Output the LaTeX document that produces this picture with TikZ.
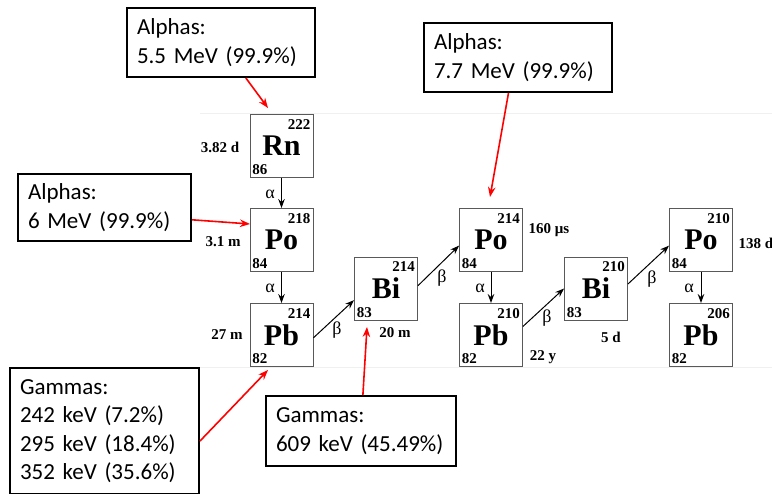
\documentclass[tikz,border=0pt]{standalone}
\usepackage{fontspec}
\setmainfont{Liberation Serif}
\newfontfamily\calfont{Carlito}
\usetikzlibrary{arrows.meta}

\begin{document}
\begin{tikzpicture}[x=1pt, y=-1pt,
    nuc/.style={draw=gray!70!black, line width=0.9pt, minimum size=63pt, inner sep=0pt,
        font=\fontsize{30}{30}\selectfont\bfseries},
    num/.style={inner sep=0pt, font=\fontsize{15}{15}\selectfont\bfseries},
    life/.style={inner sep=0pt, font=\fontsize{15}{15}\selectfont\bfseries},
    ray/.style={inner sep=0pt, font=\fontsize{18}{18}\selectfont},
    decay/.style={-{Stealth[length=9pt,width=6.5pt]}, line width=1pt},
    note/.style={draw, line width=2pt, anchor=north west, align=left, inner xsep=10pt, inner ysep=0pt,
        font=\calfont\fontsize{23}{28.5}\selectfont},
    pointer/.style={red, line width=1.6pt, -{Stealth[length=10pt,width=7.5pt]}}
]
    \clip (0,0) rectangle (772,494);

    % faint frame lines of the chart
    \draw[gray!12, line width=0.8pt] (200,113) -- (772,113);
    \draw[gray!12, line width=0.8pt] (200,367) -- (772,367);

    % nuclides
    \node[nuc] (rn)    at (281.5,146)   {Rn};
    \node[nuc] (po218) at (281.5,240)   {Po};
    \node[nuc] (pb214) at (281.5,335)   {Pb};
    \node[nuc] (bi214) at (386,288.5)   {Bi};
    \node[nuc] (po214) at (491,240)     {Po};
    \node[nuc] (pb210) at (491,335)     {Pb};
    \node[nuc] (bi210) at (596,288.5)   {Bi};
    \node[nuc] (po210) at (701,240)     {Po};
    \node[nuc] (pb206) at (701,335)     {Pb};

    \node[num, anchor=north east] (rn-a)    at ([shift={(-3,5)}]rn.north east)    {222};
    \node[num, anchor=south west] (rn-z)    at ([shift={(2.5,-3)}]rn.south west)  {86};
    \node[num, anchor=north east] (po218-a) at ([shift={(-3,5)}]po218.north east) {218};
    \node[num, anchor=south west] (po218-z) at ([shift={(2.5,-3)}]po218.south west) {84};
    \node[num, anchor=north east] (pb214-a) at ([shift={(-3,5)}]pb214.north east) {214};
    \node[num, anchor=south west] (pb214-z) at ([shift={(2.5,-3)}]pb214.south west) {82};
    \node[num, anchor=north east] (bi214-a) at ([shift={(-3,5)}]bi214.north east) {214};
    \node[num, anchor=south west] (bi214-z) at ([shift={(2.5,-3)}]bi214.south west) {83};
    \node[num, anchor=north east] (po214-a) at ([shift={(-3,5)}]po214.north east) {214};
    \node[num, anchor=south west] (po214-z) at ([shift={(2.5,-3)}]po214.south west) {84};
    \node[num, anchor=north east] (pb210-a) at ([shift={(-3,5)}]pb210.north east) {210};
    \node[num, anchor=south west] (pb210-z) at ([shift={(2.5,-3)}]pb210.south west) {82};
    \node[num, anchor=north east] (bi210-a) at ([shift={(-3,5)}]bi210.north east) {210};
    \node[num, anchor=south west] (bi210-z) at ([shift={(2.5,-3)}]bi210.south west) {83};
    \node[num, anchor=north east] (po210-a) at ([shift={(-3,5)}]po210.north east) {210};
    \node[num, anchor=south west] (po210-z) at ([shift={(2.5,-3)}]po210.south west) {84};
    \node[num, anchor=north east] (pb206-a) at ([shift={(-3,5)}]pb206.north east) {206};
    \node[num, anchor=south west] (pb206-z) at ([shift={(2.5,-3)}]pb206.south west) {82};

    % half-lives
    \node[life] (t-rn)    at (220,147) {3.82 d};
    \node[life] (t-po218) at (223,242) {3.1 m};
    \node[life] (t-pb214) at (227,335) {27 m};
    \node[life] (t-bi214) at (395,333) {20 m};
    \node[life] (t-po214) at (549,230) {160 μs};
    \node[life] (t-pb210) at (543,357) {22 y};
    \node[life] (t-bi210) at (611,337) {5 d};
    \node[life] (t-po210) at (756,243) {138 d};

    % decays
    \draw[decay] (rn.south) -- (po218.north);
    \draw[decay] (po218.south) -- (pb214.north);
    \draw[decay] (pb214.-5) -- (bi214.200);
    \draw[decay] (bi214.5) -- (po214.190);
    \draw[decay] (po214.south) -- (pb210.north);
    \draw[decay] (pb210.15) -- (bi210.west);
    \draw[decay] (bi210.8) -- (po210.190);
    \draw[decay] (po210.south) -- (pb206.north);

    \node[ray] (d1) at (270,194) {α};
    \node[ray] (d2) at (270,288) {α};
    \node[ray] (d3) at (337,330) {β};
    \node[ray] (d4) at (442,278) {β};
    \node[ray] (d5) at (480,288) {α};
    \node[ray] (d6) at (547,318) {β};
    \node[ray] (d7) at (652,279) {β};
    \node[ray] (d8) at (689,288) {α};

    % callouts
    \node[note, text width=168pt, minimum height=69pt] (a1) at (126,7)   {Alphas:\\5.5 MeV (99.9\%)};
    \node[note, text width=153pt, minimum height=67pt] (a2) at (17,173)  {Alphas:\\6 MeV (99.9\%)};
    \node[note, text width=168pt, minimum height=69pt] (a3) at (423,22)  {Alphas:\\7.7 MeV (99.9\%)};
    \node[note, text width=169pt, minimum height=126pt] (g1) at (9,367)  {Gammas:\\242 keV (7.2\%)\\295 keV (18.4\%)\\352 keV (35.6\%)};
    \node[note, text width=170pt, minimum height=70pt] (g2) at (265,395) {Gammas:\\609 keV (45.49\%)};

    \coordinate (a1-tip) at (268,108);
    \coordinate (a2-tip) at (250,224);
    \coordinate (a3-tip) at (490,197);
    \coordinate (g1-tip) at (268,370);
    \coordinate (g2-tip) at (367,327);

    \draw[pointer] (a1.-55) -- (a1-tip);
    \draw[pointer] (a2.-8) -- (a2-tip);
    \draw[pointer] (a3.255) -- (a3-tip);
    \draw[pointer] (g1.-6) -- (g1-tip);
    \draw[pointer] (g2.87) -- (g2-tip);
\end{tikzpicture}
\end{document}
